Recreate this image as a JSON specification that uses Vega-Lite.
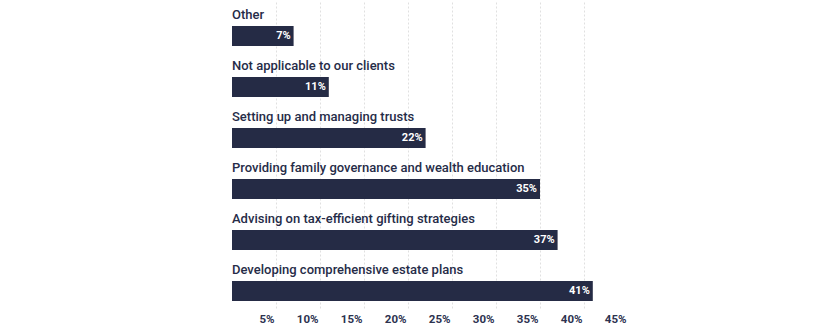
{
  "$schema": "https://vega.github.io/schema/vega-lite/v6.json",
  "autosize": "none",
  "padding": {"left": 232, "top": 2, "right": 0, "bottom": 25},
  "width": 396,
  "height": 306,
  "background": "white",
  "config": {"view": {"stroke": null}, "font": "Roboto"},
  "data": {
    "values": [
      {"label": "Other", "value": 7, "text": "7%"},
      {"label": "Not applicable to our clients", "value": 11, "text": "11%"},
      {"label": "Setting up and managing trusts", "value": 22, "text": "22%"},
      {"label": "Providing family governance and wealth education", "value": 35, "text": "35%"},
      {"label": "Advising on tax-efficient gifting strategies", "value": 37, "text": "37%"},
      {"label": "Developing comprehensive estate plans", "value": 41, "text": "41%"}
    ]
  },
  "encoding": {
    "y": {"field": "label", "type": "nominal", "sort": null, "axis": null,
          "scale": {"paddingInner": 0, "paddingOuter": 0}}
  },
  "layer": [
    {
      "mark": {"type": "bar", "size": 20, "yOffset": 8.5, "color": "#252b45"},
      "encoding": {
        "x": {"field": "value", "type": "quantitative",
              "scale": {"domain": [0, 45], "nice": false},
              "axis": {"values": [5, 10, 15, 20, 25, 30, 35, 40, 45], "labelExpr": "datum.value + '%'",
                       "domain": false, "ticks": false, "labelAlign": "right", "labelOffset": -2,
                       "labelPadding": 5, "labelFont": "Roboto", "labelFontSize": 11.5, "labelFontWeight": "bold",
                       "labelColor": "#2d3350", "grid": true, "gridColor": "#e0e0e0", "gridDash": [2, 2],
                       "title": null, "zindex": 0}}
      }
    },
    {
      "mark": {"type": "text", "align": "left", "baseline": "middle", "dy": -13, "font": "Roboto",
               "fontSize": 13, "fontWeight": 500, "color": "#262c48"},
      "encoding": {
        "x": {"datum": 0, "type": "quantitative"},
        "text": {"field": "label"}
      }
    },
    {
      "mark": {"type": "text", "align": "right", "baseline": "middle", "dx": -3, "dy": 8.5, "font": "Roboto",
               "fontSize": 11, "fontWeight": "bold", "color": "white"},
      "encoding": {
        "x": {"field": "value", "type": "quantitative"},
        "text": {"field": "text"}
      }
    }
  ]
}
